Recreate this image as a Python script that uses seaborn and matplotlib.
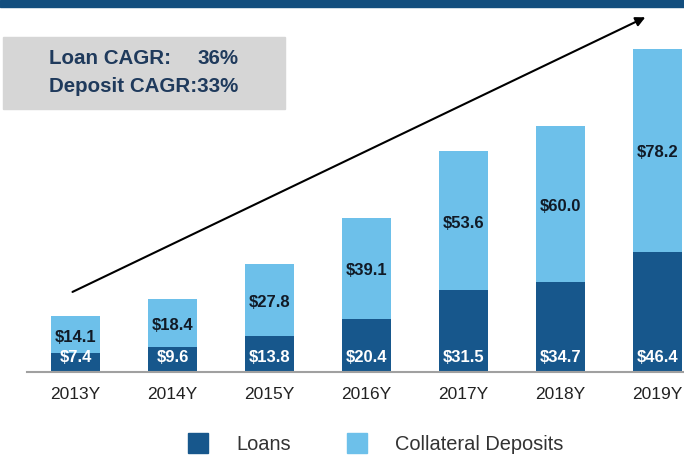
import pandas as pd
import seaborn as sns
import matplotlib.pyplot as plt
from matplotlib.patches import Rectangle
from matplotlib.lines import Line2D

# chart data
years = ["2013Y", "2014Y", "2015Y", "2016Y", "2017Y", "2018Y", "2019Y"]
loans = [7.4, 9.6, 13.8, 20.4, 31.5, 34.7, 46.4]
deposits = [14.1, 18.4, 27.8, 39.1, 53.6, 60.0, 78.2]

dark_blue = "#17578C"
light_blue = "#6DC0EA"
navy = "#1F3A5C"

df = pd.DataFrame({"year": years, "loans": loans, "deposits": deposits})
df["total"] = df["loans"] + df["deposits"]

sns.set_style("white")
plt.rcParams["font.family"] = ["Liberation Sans", "DejaVu Sans"]

fig = plt.figure(figsize=(6.84, 4.57), dpi=100)
ax = fig.add_axes([27 / 684, 85 / 457, 1 - 27 / 684, 1 - 85 / 457])

# stacked bars: total (light) behind, loans (dark) in front
sns.barplot(data=df, x="year", y="total", color=light_blue, width=0.5,
            saturation=1, linewidth=0, ax=ax)
sns.barplot(data=df, x="year", y="loans", color=dark_blue, width=0.5,
            saturation=1, linewidth=0, ax=ax)

for i, row in df.iterrows():
    ax.text(i, 5.4, f"${row['loans']:.1f}", ha="center", va="center",
            color="white", fontsize=12, fontweight="bold")
    mid = row["loans"] + row["deposits"] / 2 - 1
    ax.text(i, mid, f"${row['deposits']:.1f}", ha="center", va="center",
            color="#111a26", fontsize=12, fontweight="bold")

ax.set_xlim(-0.5, 6.273)
ax.set_ylim(0, 143.4)
ax.set_xlabel("")
ax.set_ylabel("")
ax.set_yticks([])
ax.tick_params(axis="x", length=0, pad=10.5, labelsize=12.5, labelcolor="#222222")
for s in ["top", "right", "left"]:
    ax.spines[s].set_visible(False)
ax.spines["bottom"].set_color("#a0a0a0")
ax.spines["bottom"].set_linewidth(1.5)

# growth arrow
ax.annotate("", xy=(5.90, 137.2), xytext=(-0.057, 30.4),
            arrowprops=dict(arrowstyle="-|>", color="black", lw=1.5,
                            mutation_scale=14), annotation_clip=False)

# top band and CAGR box
fig.patches.append(Rectangle((0, 450 / 457), 1, 7 / 457, transform=fig.transFigure,
                             color="#134E7E", zorder=0))
fig.patches.append(Rectangle((3 / 684, 1 - 109 / 457), 282 / 684, 72 / 457,
                             transform=fig.transFigure, color="#D6D6D6", zorder=0))
fig.text(49 / 684, 1 - 58 / 457, "Loan CAGR:", ha="left", va="center",
         fontsize=14.8, fontweight="bold", color=navy)
fig.text(238 / 684, 1 - 58 / 457, "36%", ha="right", va="center",
         fontsize=14.8, fontweight="bold", color=navy)
fig.text(49 / 684, 1 - 87 / 457, "Deposit CAGR:33%", ha="left", va="center",
         fontsize=14.8, fontweight="bold", color=navy)

# legend
handles = [Line2D([], [], marker="s", linestyle="", markersize=15,
                  markerfacecolor=dark_blue, markeredgecolor=dark_blue),
           Line2D([], [], marker="s", linestyle="", markersize=15,
                  markerfacecolor=light_blue, markeredgecolor=light_blue)]
leg = fig.legend(handles, ["Loans", "Collateral Deposits"], ncol=2,
                 loc="center", bbox_to_anchor=(0.549, 13 / 457), frameon=False,
                 fontsize=14.4, handlelength=1.05, handletextpad=1.4,
                 columnspacing=2.75)
for t in leg.get_texts():
    t.set_color("#333333")

fig.savefig("out.png", dpi=100)
